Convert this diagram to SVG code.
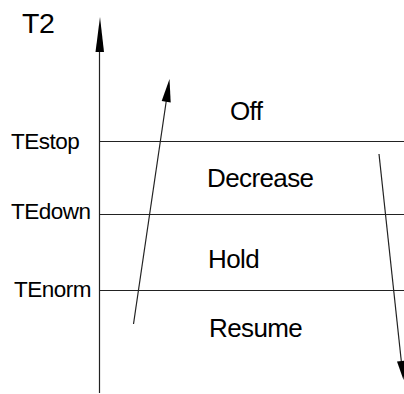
<svg xmlns="http://www.w3.org/2000/svg" width="404" height="394" viewBox="0 0 404 394">
<style>
.t{font-family:"Liberation Sans",Arial,sans-serif;fill:#000}
.big{font-size:26px;letter-spacing:-0.6px}
.lab{font-size:22.5px;letter-spacing:-0.5px}
.ln{stroke:#222;stroke-width:1.2;fill:none}
.hd{fill:#000;stroke:none}
</style>
<rect width="404" height="394" fill="#fff"/>
<g id="connectors">
<line class="ln" x1="99.5" y1="45" x2="99.5" y2="393"/>
<polygon class="hd" points="100,17 95.5,52 104,52"/>
<line class="ln" x1="100" y1="141.5" x2="404" y2="141.5"/>
<line class="ln" x1="100" y1="214.5" x2="404" y2="214.5"/>
<line class="ln" x1="100" y1="290.5" x2="404" y2="290.5"/>
<line class="ln" x1="133.5" y1="324" x2="167" y2="96"/>
<polygon class="hd" points="169.5,79 161.7,101.1 170.7,102.5"/>
<line class="ln" x1="379" y1="154" x2="401.5" y2="363"/>
<polygon class="hd" points="403.5,380 397,361.6 406,360.6"/>
</g>
<g id="axis-label"><text class="t" x="22" y="33" font-size="28.5" letter-spacing="-0.5">T2</text></g>
<g id="TEstop"><text class="t lab" x="11" y="149">TEstop</text></g>
<g id="TEdown"><text class="t lab" x="11" y="219">TEdown</text></g>
<g id="TEnorm"><text class="t lab" x="14" y="297">TEnorm</text></g>
<g id="Off"><text class="t big" x="230" y="120">Off</text></g>
<g id="Decrease"><text class="t big" x="207" y="187">Decrease</text></g>
<g id="Hold"><text class="t big" x="208" y="268">Hold</text></g>
<g id="Resume"><text class="t big" x="209" y="337">Resume</text></g>
</svg>
